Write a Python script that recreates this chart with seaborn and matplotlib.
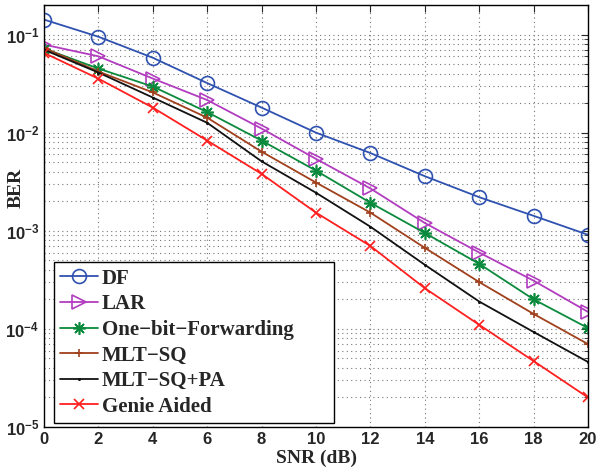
import matplotlib
matplotlib.use("Agg")
import matplotlib.pyplot as plt
import numpy as np
import pandas as pd
import seaborn as sns
from matplotlib.ticker import FuncFormatter

snr = [0, 2, 4, 6, 8, 10, 12, 14, 16, 18, 20]
ber_df = [0.142, 0.095, 0.058, 0.032, 0.018, 0.010, 0.0062, 0.0036, 0.0022, 0.00142, 0.00091]
ber_lar = [0.079, 0.060, 0.0356, 0.0215, 0.011, 0.0054, 0.0027, 0.0012, 0.0006, 0.00031, 0.000149]
ber_onebit = [0.072, 0.045, 0.0295, 0.0162, 0.0083, 0.0041, 0.00193, 0.00095, 0.00046, 0.0002, 0.000102]
ber_mltsq = [0.073, 0.042, 0.0257, 0.0142, 0.0064, 0.0031, 0.00153, 0.00067, 0.0003, 0.000142, 0.00007]
ber_mltsq_pa = [0.070, 0.041, 0.0228, 0.0126, 0.0051, 0.00244, 0.0011, 0.00045, 0.00019, 0.000093, 0.000046]
ber_genie = [0.065, 0.0355, 0.018, 0.0083, 0.0038, 0.00153, 0.0007, 0.00026, 0.00011, 0.000047, 0.00002]

labels = ["DF", "LAR", "One\u2212bit\u2212Forwarding", "MLT\u2212SQ", "MLT\u2212SQ+PA", "Genie Aided"]
series = [ber_df, ber_lar, ber_onebit, ber_mltsq, ber_mltsq_pa, ber_genie]
colors = ["#2f52b0", "#b23cbf", "#0a8a3c", "#a0401c", "#111111", "#ff1f1f"]
markers = ["o", ">", (8, 2, 0), "+", ".", "x"]
msizes = [10, 10, 9, 6, 2, 7]
mfaces = ["none", "none", "none", "none", None, "none"]

sns.set_style("white")
plt.rcParams["font.family"] = ["Liberation Sans", "DejaVu Sans"]
plt.rcParams["mathtext.fontset"] = "custom"
plt.rcParams["mathtext.rm"] = "Liberation Sans:weight=bold"
plt.rcParams["mathtext.it"] = "Liberation Sans:weight=bold"
plt.rcParams["mathtext.bf"] = "Liberation Sans:weight=bold"

fig = plt.figure(figsize=(5.97, 4.72), dpi=100)
ax = fig.add_axes([44 / 597, 1 - 427 / 472, (588 - 44) / 597, (427 - 5) / 472])

for lab, ys, c, m, ms, mf in zip(labels, series, colors, markers, msizes, mfaces):
    kw = dict(marker=m, markersize=ms, markeredgecolor=c, markeredgewidth=1.2)
    if mf is not None:
        kw["markerfacecolor"] = mf
    sns.lineplot(x=snr, y=ys, ax=ax, color=c, linewidth=1.3, label=lab, **kw)

ax.set_yscale("log")
ax.set_xlim(0, 20)
ax.set_ylim(1e-5, 0.2)
ax.set_xticks(range(0, 21, 2))
ax.yaxis.set_major_formatter(FuncFormatter(lambda v, p: r"$\mathbf{10^{%d}}$" % round(np.log10(v))))
ax.grid(True, which="major", axis="both", linestyle=(0, (1, 3)), color="#777777", linewidth=0.8)
ax.grid(True, which="minor", axis="y", linestyle=(0, (1, 3)), color="#777777", linewidth=0.8)
ax.tick_params(which="both", direction="in", top=True, right=True, labelsize=12)
ax.tick_params(which="major", length=5)
ax.tick_params(which="minor", length=3)
for t in ax.get_xticklabels():
    t.set_fontweight("bold")
for s in ax.spines.values():
    s.set_color("black")
    s.set_linewidth(1.0)

ax.set_xlabel("SNR (dB)", family="Liberation Serif", fontweight="bold", fontsize=14, labelpad=2)
ax.set_ylabel("BER", family="Liberation Serif", fontweight="bold", fontsize=14)
ax.yaxis.set_label_coords(-0.035, 0.566)

leg = ax.legend(loc="lower left", bbox_to_anchor=(10 / 544, 4 / 422, 280 / 544, 0.3), mode="expand",
                fancybox=False, framealpha=1, edgecolor="black", borderpad=0.3, labelspacing=0.27,
                handlelength=1.8, handletextpad=0.2, borderaxespad=0.0,
                prop={"family": "Liberation Serif", "weight": "bold", "size": 15})
leg.get_frame().set_linewidth(1.0)

fig.savefig("out.png", dpi=100)
